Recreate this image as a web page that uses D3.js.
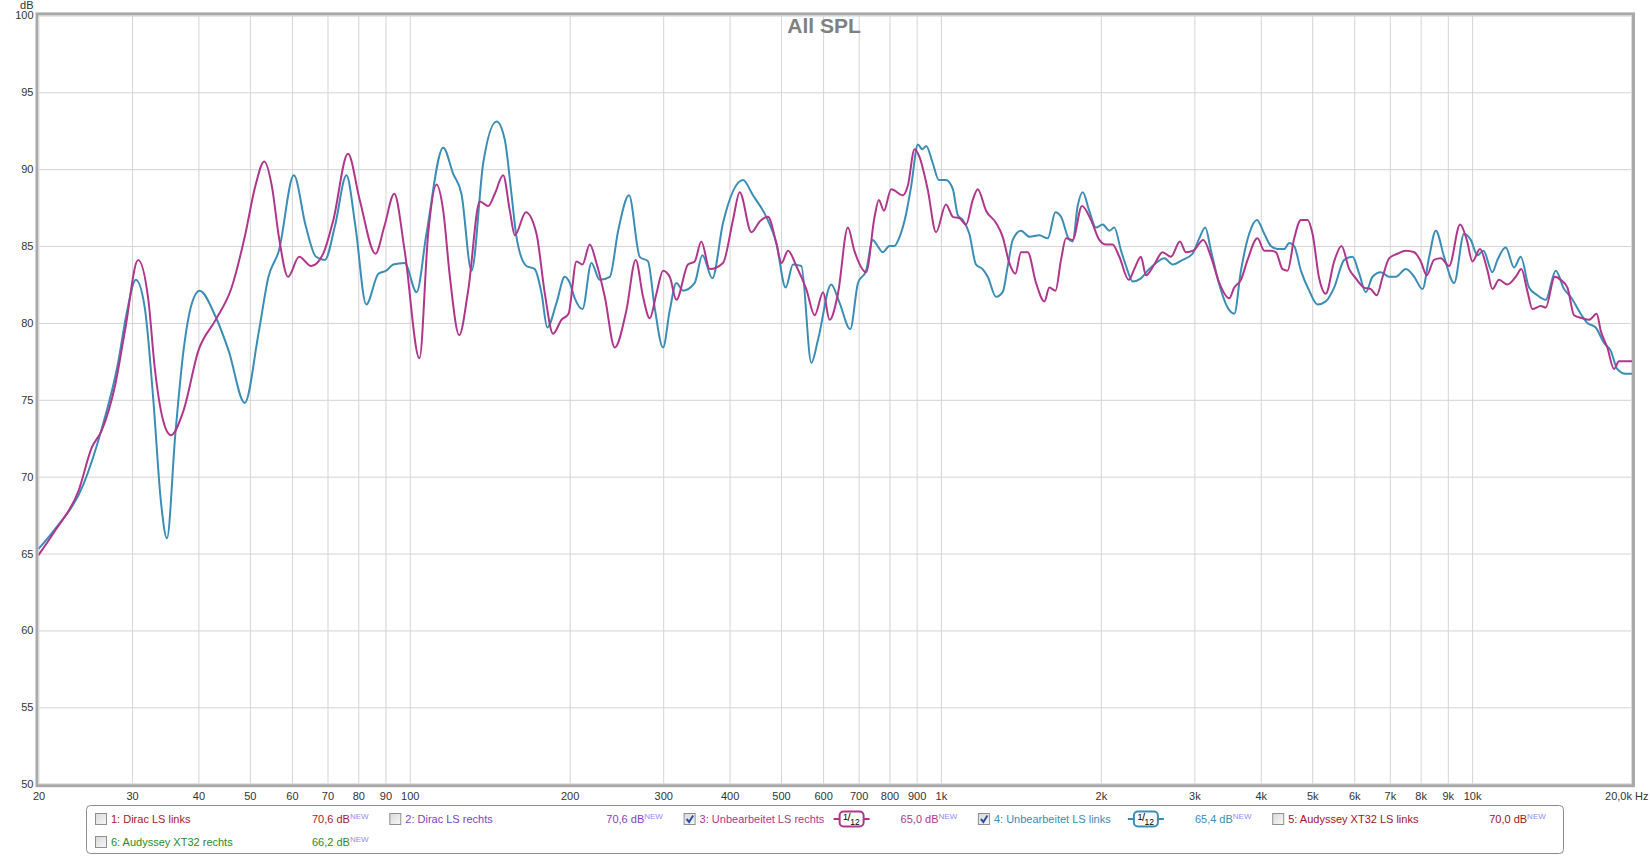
<!DOCTYPE html>
<html>
<head>
<meta charset="utf-8">
<script src="https://cdn.jsdelivr.net/npm/d3@7"></script>
<style>
  body { margin: 0; background: #fff; }
  svg { display: block; font-family: "Liberation Sans", Arial, sans-serif; }
  .grid line { stroke: #d4d4d4; stroke-width: 1; }
  .grid path { display: none; }
  .ticks text { fill: #333; font-size: 11px; }
  .ticks path, .ticks line { display: none; }
</style>
</head>
<body>
<script>
// 3: Unbearbeitet LS rechts (magenta)
var pinkFreq = [20, 21.5, 23.8, 25.2, 26.3, 27.9, 29.1, 30.8, 32.2, 33.1, 34.3, 35.5, 37.5, 40, 43.1, 46.2, 48.9, 51.2, 53.2, 55, 56.7, 59, 61.9, 65.2, 68.7, 71.8, 76.5, 80.5, 86.2, 89.6, 93.5, 97.8, 104.3, 108.3, 112.3, 115.6, 119, 123.9, 128.8, 135.5, 140.5, 144.6, 149.9, 154.3, 157.7, 165.4, 173.2, 179.6, 186.1, 193, 199, 206, 211.4, 218.2, 224.6, 232.9, 243.2, 255.7, 266.3, 274.9, 283, 291.3, 299.8, 308.6, 317.6, 334, 343.9, 353.9, 367, 388.8, 406, 418, 439.7, 455.8, 472.4, 489.8, 501, 515.3, 534.3, 557.8, 578.5, 600, 617.1, 639.9, 668, 687, 723, 750, 764, 781, 806, 848, 866, 892, 911, 944, 979, 1022, 1053, 1084, 1115, 1148, 1173, 1216, 1270, 1307, 1345, 1381, 1415, 1457, 1510, 1566, 1600, 1643, 1683, 1720, 1770, 1843, 1916, 1987, 2045, 2104, 2167, 2257, 2312, 2380, 2432, 2521, 2614, 2710, 2818, 2892, 2985, 3119, 3224, 3342, 3490, 3566, 3671, 3778, 3944, 4062, 4180, 4272, 4397, 4493, 4625, 4761, 4900, 5007, 5153, 5303, 5499, 5677, 5870, 6041, 6263, 6444, 6615, 6786, 6979, 7235, 7503, 7781, 8006, 8216, 8480, 8730, 9051, 9493, 9773, 10013, 10349, 10691, 10919, 11240, 11654, 12082, 12381, 12700, 12988, 13465, 13758, 14307, 14686, 15117, 15558, 16129, 16600, 17160, 17463, 17973, 18500, 18907, 20000];
var pinkDb = [64.9, 66.5, 69.1, 71.9, 73.0, 76.0, 79.5, 84.1, 81.5, 77.1, 73.7, 72.7, 74.3, 78.2, 80.2, 82.3, 85.6, 88.9, 90.5, 88.9, 85.6, 83.0, 84.3, 83.7, 84.5, 86.7, 91.0, 88.0, 84.5, 86.3, 88.4, 84.7, 77.7, 85.8, 89.0, 87.3, 83.0, 79.2, 82.1, 87.9, 87.6, 88.4, 89.6, 87.3, 85.7, 87.2, 85.8, 81.9, 79.3, 80.2, 80.6, 84.0, 83.8, 85.1, 83.9, 81.7, 78.4, 80.8, 84.1, 81.7, 80.3, 81.9, 83.4, 83.0, 81.5, 83.8, 84.0, 85.3, 83.5, 83.9, 86.7, 88.5, 85.9, 86.6, 86.9, 85.2, 83.9, 84.7, 83.7, 82.2, 80.5, 82.0, 80.2, 81.9, 86.2, 84.7, 83.3, 86.9, 88.0, 87.3, 88.7, 88.3, 88.9, 91.3, 90.8, 88.7, 85.9, 87.7, 86.9, 86.8, 86.4, 88.0, 88.7, 87.3, 86.5, 85.6, 83.9, 83.2, 84.6, 84.6, 82.6, 81.4, 82.3, 82.1, 84.1, 85.5, 85.4, 87.6, 86.7, 85.4, 85.1, 85.1, 84.3, 82.8, 83.5, 84.3, 83.1, 83.8, 84.6, 84.3, 85.3, 84.6, 84.7, 85.4, 84.3, 82.6, 81.6, 82.3, 82.8, 84.1, 85.5, 84.7, 84.7, 84.6, 83.5, 83.4, 85.5, 86.7, 86.7, 85.8, 82.9, 81.9, 84.0, 85.0, 83.5, 82.9, 82.3, 82.2, 81.8, 83.0, 84.2, 84.5, 84.7, 84.6, 84.0, 83.1, 84.1, 84.2, 83.7, 86.4, 85.4, 84.0, 84.8, 83.4, 82.2, 82.8, 82.5, 83.0, 83.5, 82.1, 80.9, 81.1, 81.0, 83.0, 82.8, 82.3, 80.5, 80.3, 80.2, 80.6, 79.5, 78.4, 77.0, 77.5, 77.5];

// 4: Unbearbeitet LS links (blue)
var blueFreq = [20, 21.5, 24.3, 26.3, 28.2, 29.3, 30.5, 31.7, 32.9, 34, 34.9, 36.2, 37.5, 38.9, 40.2, 43.1, 45.6, 48.9, 51.9, 54.2, 56.7, 60.5, 63.7, 66.6, 69.2, 72.3, 76, 79, 82.8, 87.3, 90.3, 93.1, 97.8, 103, 107.5, 115.6, 120.7, 125.1, 130.7, 137.5, 145.7, 151, 155.4, 158.8, 165.8, 171.9, 177.1, 181.5, 188.9, 195.8, 200.1, 204.5, 211.4, 219.8, 227.8, 238, 246.8, 258.7, 271, 280.9, 289.1, 299.8, 308.6, 317.6, 327.1, 343.9, 355.5, 371.2, 388.8, 424, 442.7, 469, 489.8, 510.2, 526.6, 546, 570.2, 586.9, 621.5, 644.4, 675, 698, 723, 744, 760, 777, 800, 817, 836, 860, 879, 905, 922, 938, 965, 991, 1022, 1053, 1076, 1099, 1131, 1164, 1198, 1225, 1270, 1307, 1336, 1365, 1415, 1468, 1532, 1589, 1643, 1683, 1745, 1770, 1809, 1849, 1902, 1958, 2016, 2076, 2120, 2183, 2231, 2296, 2380, 2450, 2540, 2634, 2731, 2851, 2977, 3064, 3145, 3224, 3342, 3465, 3567, 3671, 3805, 3934, 4062, 4180, 4301, 4429, 4525, 4625, 4761, 4935, 5117, 5303, 5499, 5745, 5955, 6130, 6308, 6494, 6733, 6979, 7185, 7503, 7781, 8066, 8302, 8544, 8858, 9250, 9657, 9943, 10235, 10502, 10919, 11162, 11568, 11996, 12349, 12799, 13269, 13758, 14371, 14899, 15330, 16008, 16482, 17088, 17716, 18233, 18768, 19460, 20000];
var blueDb = [65.3, 66.6, 69.5, 73.1, 77.3, 80.6, 82.8, 81.0, 75.0, 68.4, 66.0, 72.8, 78.2, 81.3, 82.1, 80.4, 78.2, 74.8, 79.3, 83.0, 84.7, 89.6, 86.3, 84.3, 84.1, 86.3, 89.6, 86.3, 81.2, 83.2, 83.4, 83.8, 83.9, 82.0, 85.8, 91.4, 89.7, 88.4, 83.4, 90.4, 93.1, 91.9, 88.4, 85.6, 83.7, 83.5, 81.9, 79.7, 81.3, 83.0, 82.6, 81.6, 80.9, 83.9, 82.8, 83.0, 86.0, 88.3, 84.3, 84.0, 81.0, 78.4, 80.8, 82.6, 82.1, 82.6, 84.4, 82.9, 86.5, 89.3, 88.3, 86.9, 85.2, 82.3, 83.8, 83.7, 77.4, 78.9, 82.5, 81.3, 79.6, 82.6, 83.4, 85.4, 85.0, 84.6, 85.0, 85.0, 85.6, 87.1, 88.9, 91.6, 91.3, 91.5, 90.4, 89.3, 89.3, 88.7, 87.0, 86.7, 85.8, 83.8, 83.5, 83.0, 81.7, 82.0, 83.7, 85.4, 86.0, 85.6, 85.7, 85.5, 87.2, 86.9, 85.4, 85.3, 87.6, 88.5, 87.3, 86.2, 86.4, 86.0, 86.2, 84.7, 83.7, 82.7, 82.9, 83.4, 83.9, 84.2, 83.8, 84.1, 84.5, 85.5, 86.2, 84.7, 82.5, 81.0, 80.6, 83.4, 85.8, 86.7, 85.8, 85.0, 84.8, 84.8, 85.2, 85.0, 83.4, 82.1, 81.2, 81.4, 82.3, 84.1, 84.3, 83.2, 82.0, 83.0, 83.3, 83.0, 83.0, 83.5, 83.0, 82.2, 84.3, 86.0, 84.3, 82.6, 85.8, 85.4, 84.4, 84.7, 83.3, 84.1, 84.9, 83.6, 84.3, 82.3, 81.8, 81.5, 83.4, 82.2, 81.7, 80.6, 80.0, 79.7, 78.7, 78.2, 77.0, 76.7, 76.7];

var gridFreqs = [30, 40, 50, 60, 70, 80, 90, 100, 200, 300, 400, 500, 600, 700, 800, 900, 1000, 2000, 3000, 4000, 5000, 6000, 7000, 8000, 9000, 10000];
var xTickValues = [20, 30, 40, 50, 60, 70, 80, 90, 100, 200, 300, 400, 500, 600, 700, 800, 900, 1000, 2000, 3000, 4000, 5000, 6000, 7000, 8000, 9000, 10000, 20000];
var yTickValues = [50, 55, 60, 65, 70, 75, 80, 85, 90, 95, 100];

var legendNames = ['1: Dirac LS links', '2: Dirac LS rechts', '3: Unbearbeitet LS rechts', '4: Unbearbeitet LS links', '5: Audyssey XT32 LS links', '6: Audyssey XT32 rechts'];
var legendValues = ['70,6 dB', '70,6 dB', '65,0 dB', '65,4 dB', '70,0 dB', '66,2 dB'];
var legendColors = ['#a81a22', '#7f3fbf', '#b0368c', '#3b8db6', '#a0141c', '#2a8a2a'];
var legendChecked = [false, false, true, true, false, false];

var width = 1650, height = 856;
var plotL = 38.5, plotR = 1632, plotT = 15.4, plotB = 784.2;

var x = d3.scaleLog().domain([20, 20000]).range([plotL, plotR]);
var y = d3.scaleLinear().domain([50, 100]).range([plotB, plotT]);

var svg = d3.select('body').append('svg')
    .attr('width', width)
    .attr('height', height);

svg.append('defs').append('clipPath').attr('id', 'plotclip')
    .append('rect')
    .attr('x', plotL).attr('y', plotT)
    .attr('width', plotR - plotL).attr('height', plotB - plotT);

var cbGrad = svg.select('defs').append('linearGradient')
    .attr('id', 'cbgrad').attr('x1', 0).attr('y1', 0).attr('x2', 1).attr('y2', 1);
cbGrad.append('stop').attr('offset', '0%').attr('stop-color', '#d8d8d8');
cbGrad.append('stop').attr('offset', '100%').attr('stop-color', '#f8f8f8');

// grid
svg.append('g')
    .attr('class', 'grid')
    .attr('transform', 'translate(0,' + plotB + ')')
    .call(d3.axisBottom(x).tickValues(gridFreqs).tickSize(-(plotB - plotT)).tickFormat(''));

svg.append('g')
    .attr('class', 'grid')
    .attr('transform', 'translate(' + plotL + ',0)')
    .call(d3.axisLeft(y).tickValues(yTickValues).tickSize(-(plotR - plotL)).tickFormat(''));

// frame
svg.append('rect')
    .attr('x', plotL - 1.5).attr('y', plotT - 1.5)
    .attr('width', plotR - plotL + 3).attr('height', plotB - plotT + 3)
    .attr('fill', 'none').attr('stroke', '#a9a9a9').attr('stroke-width', 3);
svg.append('rect')
    .attr('x', plotL + 0.5).attr('y', plotT + 0.5)
    .attr('width', plotR - plotL - 1).attr('height', plotB - plotT - 1)
    .attr('fill', 'none').attr('stroke', '#dcdcdc').attr('stroke-width', 1);

// axes labels
var xAxis = svg.append('g')
    .attr('class', 'ticks')
    .attr('transform', 'translate(0,' + (plotB + 3) + ')')
    .call(d3.axisBottom(x).tickValues(xTickValues).tickSize(0).tickPadding(5)
        .tickFormat(function(d) {
            if (d === 20000) return '20,0k Hz';
            return d >= 1000 ? (d / 1000) + 'k' : d;
        }));
xAxis.selectAll('.tick').filter(function(d) { return d === 20000; })
    .select('text').attr('text-anchor', 'end').attr('dx', 16);

svg.append('g')
    .attr('class', 'ticks')
    .attr('transform', 'translate(' + (plotL - 2) + ',0)')
    .call(d3.axisLeft(y).tickValues(yTickValues).tickSize(0).tickPadding(3));

svg.append('text')
    .attr('x', plotL - 5).attr('y', 9)
    .attr('text-anchor', 'end')
    .attr('font-size', 11).attr('fill', '#333')
    .text('dB');

svg.append('text')
    .attr('x', 824).attr('y', 33)
    .attr('text-anchor', 'middle')
    .attr('font-size', 21).attr('font-weight', 'bold').attr('fill', '#808080')
    .text('All SPL');

// curves
var line = d3.line()
    .x(function(d) { return x(d[0]); })
    .y(function(d) { return y(d[1]); })
    .curve(d3.curveMonotoneX);

var curves = svg.append('g').attr('clip-path', 'url(#plotclip)');

curves.append('path')
    .datum(d3.zip(blueFreq, blueDb))
    .attr('fill', 'none')
    .attr('stroke', legendColors[3])
    .attr('stroke-width', 2)
    .attr('d', line);

curves.append('path')
    .datum(d3.zip(pinkFreq, pinkDb))
    .attr('fill', 'none')
    .attr('stroke', legendColors[2])
    .attr('stroke-width', 2)
    .attr('d', line);

// legend
svg.append('rect')
    .attr('x', 86.5).attr('y', 805.5)
    .attr('width', 1477).attr('height', 48)
    .attr('rx', 4)
    .attr('fill', '#fff').attr('stroke', '#8c8c8c').attr('stroke-width', 1);

var items = svg.selectAll('.legitem')
    .data(legendNames)
    .enter().append('g')
        .attr('class', 'legitem')
        .attr('transform', function(d, i) {
            var col = i % 5, row = Math.floor(i / 5);
            return 'translate(' + (95 + col * 294.3) + ',' + (819 + row * 23) + ')';
        });

items.append('rect')
    .attr('x', 0.5).attr('y', -5.5)
    .attr('width', 11).attr('height', 11)
    .attr('fill', 'url(#cbgrad)')
    .attr('stroke', '#8e8f8f');

items.filter(function(d, i) { return legendChecked[i]; })
    .append('path')
    .attr('d', 'M3,0 L5.5,3 L9.5,-3.5')
    .attr('fill', 'none')
    .attr('stroke', '#2e4f9c')
    .attr('stroke-width', 2);

items.append('text')
    .attr('x', 16).attr('y', 4)
    .attr('font-size', 11)
    .attr('fill', function(d, i) { return legendColors[i]; })
    .text(function(d) { return d; });

var val = items.append('text')
    .attr('x', 217).attr('y', 4)
    .attr('font-size', 11)
    .attr('fill', function(d, i) { return legendColors[i]; });
val.append('tspan').text(function(d, i) { return legendValues[i]; });
val.append('tspan')
    .attr('dy', -4).attr('font-size', 8).attr('fill', '#8d8dff')
    .text('NEW');

var badge = items.filter(function(d, i) { return legendChecked[i]; })
    .append('g')
    .attr('transform', 'translate(150,0)');
badge.append('line')
    .attr('x1', 0).attr('x2', 36).attr('y1', 0).attr('y2', 0)
    .attr('stroke', function(d) { return legendColors[legendNames.indexOf(d)]; })
    .attr('stroke-width', 2);
badge.append('rect')
    .attr('x', 6).attr('y', -7.5).attr('width', 24).attr('height', 15).attr('rx', 4)
    .attr('fill', '#fff')
    .attr('stroke', function(d) { return legendColors[legendNames.indexOf(d)]; })
    .attr('stroke-width', 2);
var bt = badge.append('text')
    .attr('x', 9.5).attr('y', 1)
    .attr('fill', '#000');
bt.append('tspan').attr('font-size', 9).text('1');
bt.append('tspan').attr('font-size', 11).attr('dx', -0.5).attr('dy', 1).text('/');
bt.append('tspan').attr('font-size', 8.5).attr('dx', -0.5).attr('dy', 3.5).text('12');
</script>
</body>
</html>
